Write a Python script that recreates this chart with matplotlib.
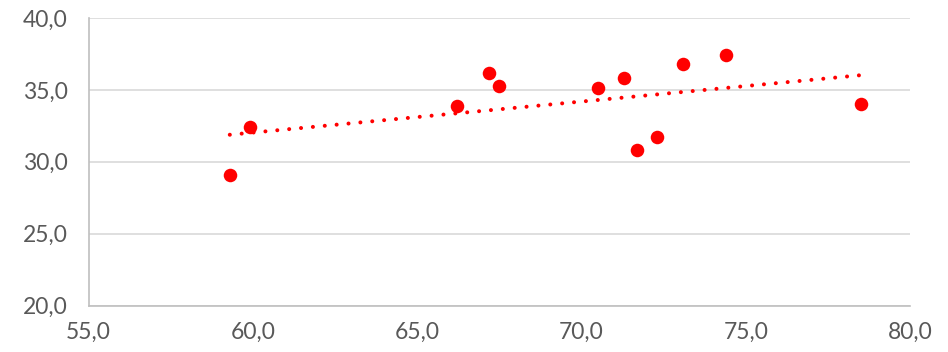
import numpy as np
import matplotlib
matplotlib.use("Agg")
import matplotlib.pyplot as plt
from matplotlib.ticker import FuncFormatter

# data
x_vals = [59.3, 59.9, 66.2, 67.2, 67.5, 70.5, 71.3, 71.7, 72.3, 73.1, 74.4, 78.5]
y_vals = [29.1, 32.4, 33.9, 36.2, 35.3, 35.1, 35.8, 30.8, 31.7, 36.8, 37.4, 34.0]

x_ticks = [55, 60, 65, 70, 75, 80]
y_ticks = [20, 25, 30, 35, 40]

red = "#ff0000"
grey_txt = "#595959"
grid_col = "#d9d9d9"

plt.rcParams['font.family'] = ['Lato', 'DejaVu Sans']

fig = plt.figure(figsize=(9.48, 3.52), dpi=100)
ax = fig.add_axes([88.5 / 948, 1 - 305.5 / 352, (910 - 88.5) / 948, (305.5 - 18) / 352])

ax.scatter(x_vals, y_vals, s=95, color=red, zorder=3, linewidths=0)

# linear trendline, dotted
k, b = np.polyfit(x_vals, y_vals, 1)
xt = np.array([min(x_vals), max(x_vals)])
ax.plot(xt, k * xt + b, color=red, lw=2.9, linestyle=(0, (0.01, 2.95)),
        dash_capstyle='round', zorder=2)

ax.set_xlim(55, 80)
ax.set_ylim(20, 40)
ax.set_xticks(x_ticks)
ax.set_yticks(y_ticks)
fmt = FuncFormatter(lambda v, p: f"{v:.1f}".replace(".", ","))
ax.xaxis.set_major_formatter(fmt)
ax.yaxis.set_major_formatter(fmt)

ax.grid(axis='y', color=grid_col, lw=1.2, zorder=0)
ax.set_axisbelow(True)
for s in ['top', 'right']:
    ax.spines[s].set_visible(False)
for s in ['left', 'bottom']:
    ax.spines[s].set_color("#bfbfbf")
    ax.spines[s].set_linewidth(1.2)
ax.tick_params(length=0, labelsize=16.5, colors=grey_txt)
ax.tick_params(axis='y', pad=15)
ax.tick_params(axis='x', pad=12)

fig.savefig("out.png", dpi=100)
